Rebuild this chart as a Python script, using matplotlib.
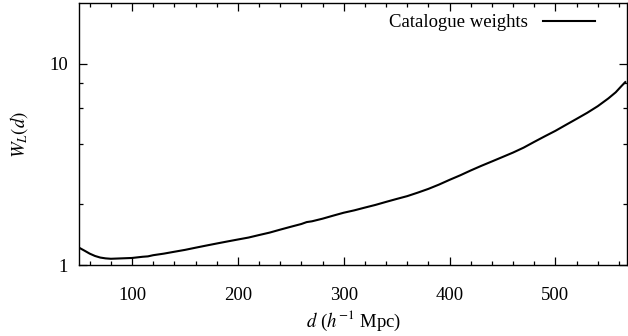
import matplotlib
matplotlib.use("Agg")
import matplotlib.pyplot as plt
from matplotlib.ticker import FixedLocator, NullFormatter, FixedFormatter

# Catalogue weights W_L(d)
d = [50, 55, 60, 65, 70, 75, 80, 90, 100, 110, 115, 120, 130, 140, 150, 160, 170,
     180, 190, 200, 210, 220, 230, 240, 250, 260, 265, 270, 280, 290, 300, 310,
     320, 330, 340, 350, 360, 370, 380, 390, 400, 410, 420, 430, 440, 450, 460,
     470, 480, 490, 500, 510, 520, 530, 540, 550, 557, 562, 566]
w = [1.22, 1.18, 1.14, 1.11, 1.09, 1.08, 1.075, 1.08, 1.085, 1.10, 1.105, 1.12,
     1.14, 1.165, 1.19, 1.22, 1.25, 1.28, 1.31, 1.34, 1.37, 1.41, 1.45, 1.50,
     1.55, 1.60, 1.635, 1.65, 1.70, 1.76, 1.82, 1.87, 1.93, 1.99, 2.06, 2.13,
     2.20, 2.29, 2.39, 2.51, 2.65, 2.79, 2.95, 3.11, 3.27, 3.44, 3.62, 3.83,
     4.09, 4.36, 4.64, 4.97, 5.32, 5.70, 6.15, 6.72, 7.21, 7.70, 8.10]

plt.rcParams['font.family'] = ['Liberation Serif', 'DejaVu Serif']
plt.rcParams['mathtext.fontset'] = 'stix'

fig = plt.figure(figsize=(6.28, 3.36), dpi=100)
ax = fig.add_axes([0.126, 0.211, 0.873, 0.780])

ax.plot(d, w, color='black', linewidth=1.5, label='Catalogue weights')

ax.set_yscale('log')
ax.set_xlim(50, 568)
ax.set_ylim(1, 20)

ax.yaxis.set_major_locator(FixedLocator([1, 10]))
ax.yaxis.set_major_formatter(FixedFormatter(['1', '10']))
ax.yaxis.set_minor_locator(FixedLocator([2, 4, 6, 8]))
ax.yaxis.set_minor_formatter(NullFormatter())
ax.set_xticks([100, 200, 300, 400, 500])
ax.set_xticks(range(60, 568, 20), minor=True)

ax.tick_params(which='both', direction='in', top=True, right=True,
               labelsize=13.5, width=0.9)
ax.tick_params(which='major', length=6)
ax.tick_params(axis='y', which='major', pad=8)
ax.tick_params(axis='x', which='major', pad=16)
ax.tick_params(which='minor', length=3)
for s in ax.spines.values():
    s.set_linewidth(1.0)

ax.set_xlabel(r'$d$ ($h^{-1}$ Mpc)', fontsize=13.5, labelpad=3)
ax.set_ylabel(r'$W_L(d)$', fontsize=13.5, labelpad=14)

ax.legend(loc='upper right', frameon=False, markerfirst=False, fontsize=13.5,
          handlelength=2.8, borderaxespad=0.2, bbox_to_anchor=(0.962, 1.0))

fig.savefig('out.png', dpi=100)
